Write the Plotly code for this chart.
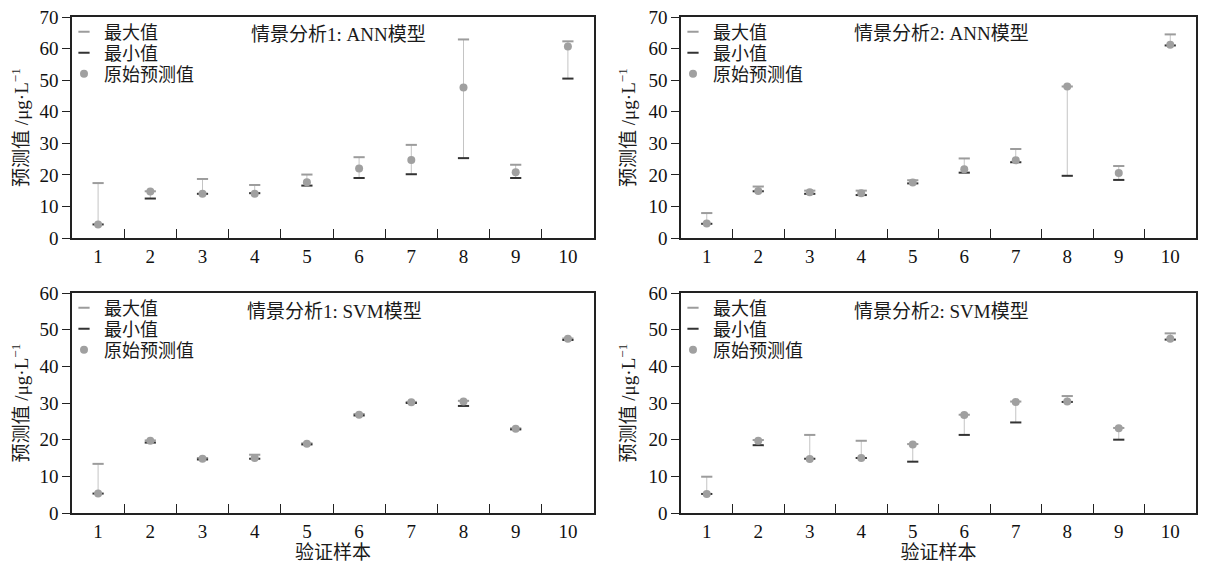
import plotly.graph_objects as go

samples = [1, 2, 3, 4, 5, 6, 7, 8, 9, 10]
tick_labels = ["1", "2", "3", "4", "5", "6", "7", "8", "9", "10"]

ann1_max = [17.4, 14.8, 18.7, 16.8, 20.1, 25.6, 29.5, 62.9, 23.2, 62.3]
ann1_min = [4.3, 12.5, 14.0, 14.2, 16.6, 19.0, 20.2, 25.3, 19.0, 50.5]
ann1_orig = [4.3, 14.7, 14.0, 14.0, 17.7, 22.0, 24.7, 47.7, 20.8, 60.7]

ann2_max = [7.9, 16.3, 15.0, 15.0, 18.3, 25.2, 28.2, 48.0, 22.8, 64.5]
ann2_min = [4.5, 14.8, 14.0, 13.6, 17.3, 20.7, 24.0, 19.7, 18.4, 61.0]
ann2_orig = [4.6, 14.9, 14.5, 14.2, 17.6, 21.8, 24.6, 48.0, 20.6, 61.2]

svm1_max = [13.4, 19.8, 15.0, 15.9, 19.0, 27.0, 30.3, 30.6, 23.1, 47.6]
svm1_min = [5.3, 19.2, 14.6, 14.8, 18.7, 26.6, 30.0, 29.2, 22.8, 47.2]
svm1_orig = [5.3, 19.7, 14.8, 15.0, 18.9, 26.8, 30.2, 30.4, 23.0, 47.5]

svm2_max = [9.9, 19.9, 21.3, 19.7, 18.8, 26.8, 30.4, 31.9, 23.2, 49.0]
svm2_min = [5.2, 18.5, 14.8, 15.0, 14.0, 21.3, 24.7, 30.3, 20.0, 47.3]
svm2_orig = [5.2, 19.7, 14.7, 15.0, 18.7, 26.7, 30.3, 30.4, 23.1, 47.5]

panel_titles = ["情景分析1: ANN模型", "情景分析2: ANN模型", "情景分析1: SVM模型", "情景分析2: SVM模型"]
series_names = ["最大值", "最小值", "原始预测值"]
y_title = "预测值 /μg·L<sup>−1</sup>"
x_title = "验证样本"

FONT = "Liberation Serif, Noto Sans CJK SC, serif"
OFF = 8                      # page body margin
W, H = 1206 - OFF, 565 - OFF


def px_x(X):
    return (X - OFF) / W


def px_y(Y):
    return 1 - (Y - OFF) / H


panels = [
    (ann1_max, ann1_min, ann1_orig, 70),
    (ann2_max, ann2_min, ann2_orig, 70),
    (svm1_max, svm1_min, svm1_orig, 60),
    (svm2_max, svm2_min, svm2_orig, 60),
]

# screen pixel layout of plot areas: (left, right, top, bottom)
boxes = [
    (72, 594, 17, 238),
    (681, 1196, 17, 238),
    (72, 594, 293, 513),
    (681, 1196, 293, 513),
]
title_px = [(338, 34), (941, 33), (334, 311), (941, 311)]

C_MAX = "#9c9c9c"
C_MIN = "#333333"
C_PT = "#a0a0a0"
C_RANGE = "#c4c4c4"

# category boundaries (between neighbouring samples) for the inward ticks
boundaries = [(a + b) / 2 for a, b in zip(samples[:-1], samples[1:])]

fig = go.Figure()
layout = dict(
    width=W, height=H,
    margin=dict(l=0, r=0, t=0, b=0),
    paper_bgcolor="white", plot_bgcolor="white",
    font=dict(family=FONT, size=18, color="#222222"),
    showlegend=True,
    annotations=[],
)

for i, (mx, mn, orig, ymax) in enumerate(panels):
    n = "" if i == 0 else str(i + 1)
    xa, ya = "x" + n, "y" + n
    l, r, t, b = boxes[i]
    legs = []
    for k in range(3):
        idx = i * 3 + k + 1
        lg = "legend" if idx == 1 else "legend" + str(idx)
        legs.append(lg)
        row_center = t + 14 + 21 * k
        layout[lg] = dict(
            x=px_x(l - 8), xanchor="left", y=px_y(row_center - 17.5), yanchor="top",
            bgcolor="rgba(0,0,0,0)", borderwidth=0,
            font=dict(family=FONT, size=18, color="#1a1a1a"),
            itemsizing="trace",
        )
    lx = []
    ly = []
    for s, a, c in zip(samples, mn, mx):
        lx += [s, s, None]
        ly += [a, c, None]
    fig.add_trace(go.Scatter(x=lx, y=ly, mode="lines", line=dict(color=C_RANGE, width=1),
                             showlegend=False, hoverinfo="skip", xaxis=xa, yaxis=ya))
    fig.add_trace(go.Scatter(x=samples, y=mx, mode="markers", name=series_names[0],
                             marker=dict(symbol="line-ew", size=8, color=C_MAX,
                                         line=dict(width=2, color=C_MAX)),
                             xaxis=xa, yaxis=ya, legend=legs[0]))
    fig.add_trace(go.Scatter(x=samples, y=mn, mode="markers", name=series_names[1],
                             marker=dict(symbol="line-ew", size=8, color=C_MIN,
                                         line=dict(width=2, color=C_MIN)),
                             xaxis=xa, yaxis=ya, legend=legs[1]))
    fig.add_trace(go.Scatter(x=samples, y=orig, mode="markers", name=series_names[2],
                             marker=dict(symbol="circle", size=8, color=C_PT),
                             xaxis=xa, yaxis=ya, legend=legs[2]))

    bottom = i >= 2
    xaxis = dict(
        domain=[px_x(l), px_x(r)], anchor=ya, range=[0.5, 10.5],
        tickmode="array", tickvals=samples, ticktext=tick_labels, ticks="",
        showline=True, mirror=True, linecolor="#222222", linewidth=1.5,
        showgrid=False, zeroline=False,
        tickfont=dict(family=FONT, size=19, color="#111111"),
        minor=dict(ticks="inside", tickmode="array", tickvals=boundaries, ticklen=9,
                   tickwidth=1.2, tickcolor="#222222", showgrid=False),
        automargin=False,
    )
    if bottom:
        xaxis["title"] = dict(text=x_title, font=dict(family=FONT, size=19, color="#1a1a1a"),
                              standoff=2)
    layout["xaxis" + n] = xaxis
    layout["yaxis" + n] = dict(
        domain=[px_y(b), px_y(t)], anchor=xa, range=[0, ymax + 0.01],
        tickmode="array", tickvals=list(range(0, ymax + 1, 10)),
        ticks="outside", ticklen=8, tickwidth=1.2, tickcolor="#222222",
        ticklabeloverflow="allow",
        showline=True, mirror=True, linecolor="#222222", linewidth=1.5,
        showgrid=False, zeroline=False,
        tickfont=dict(family=FONT, size=19, color="#111111"),
        title=dict(text=y_title, font=dict(family=FONT, size=19, color="#1a1a1a"), standoff=8),
        automargin=False,
    )
    tx, ty = title_px[i]
    layout["annotations"].append(dict(
        text=panel_titles[i], xref="paper", yref="paper",
        x=px_x(tx), y=px_y(ty), xanchor="center", yanchor="middle", showarrow=False,
        font=dict(family=FONT, size=19, color="#1a1a1a"),
    ))

fig.update_layout(**layout)
fig.write_html("out.html")
